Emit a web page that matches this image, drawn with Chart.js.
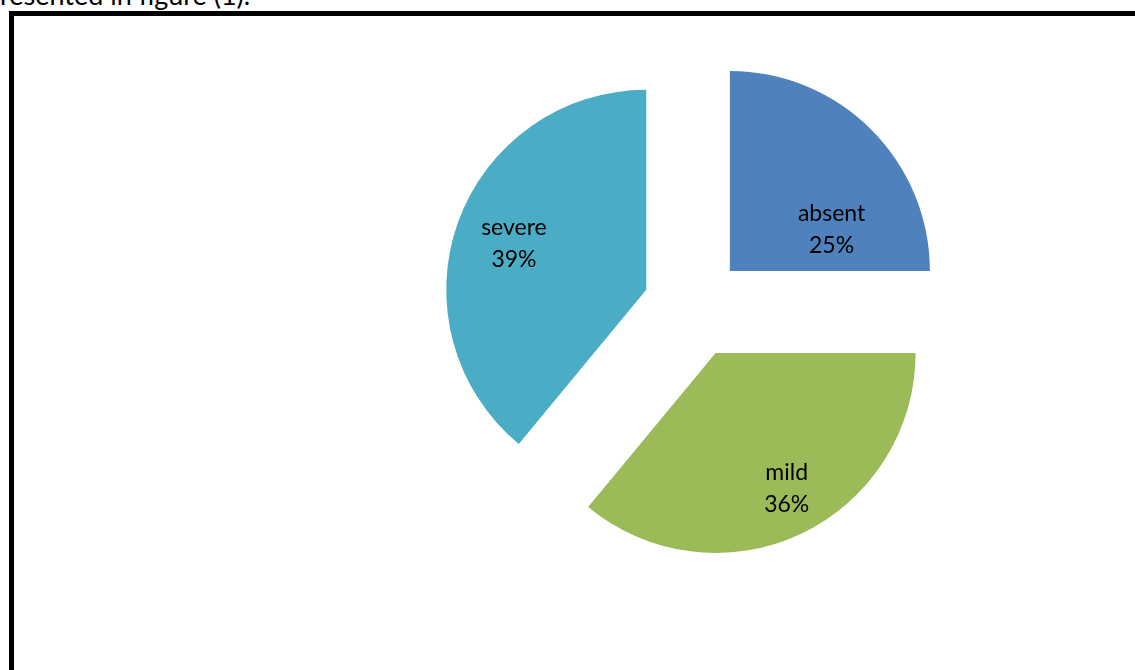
<!DOCTYPE html>
<html>
<head>
<meta charset="utf-8">
<script src="https://cdn.jsdelivr.net/npm/chart.js@4/dist/chart.umd.min.js"></script>
<style>
    body { margin: 0; background: #fff; overflow: hidden; width: 1135px; height: 670px; position: relative; }
    #caption { position: absolute; left: 0; top: -22px; font: 27px Lato, sans-serif; color: #000; white-space: nowrap; }
    #frame { position: absolute; left: 9px; top: 11px; width: 1200px; height: 800px; border: 5px solid #000; }
    #piechart { position: absolute; left: 394px; top: 7px; }
</style>
</head>
<body>
<div id="caption">resented in figure (1).</div>
<div id="frame"></div>
<canvas id="piechart" width="600" height="600"></canvas>
<script>
const categories = ["absent", "mild", "severe"];
const percentValues = [25, 36, 39];
const sliceColors = ['#4F81BD', '#9BBB59', '#4BACC6'];

const pieRadius = 200;
const explodeOffset = 203; // chart.js moves each slice offset/4 px
// where each label sits: [angle shift in degrees, fraction of the radius]
const labelPlacement = [[22.6, 0.55], [-2.5, 0.765], [-0.7, 0.70]];

// chart.js grows exploded slices and narrows them a little;
// undo both so every slice keeps the same radius and straight edges
const keepShape = {
    id: 'keepShape',
    afterDatasetUpdate(chart, args) {
        args.meta.data.forEach(arc => {
            const circ = arc.circumference;
            const fix = 1 - Math.sin(Math.min(Math.PI, circ));
            const radiusOffset = (explodeOffset / 4) * fix;
            arc.outerRadius = pieRadius - radiusOffset;
            const widen = radiusOffset / (2 * Math.PI * pieRadius);
            arc.startAngle -= widen;
            arc.endAngle += widen;
        });
    }
};

const sliceLabels = {
    id: 'sliceLabels',
    afterDatasetsDraw(chart) {
        const ctx = chart.ctx;
        const total = percentValues.reduce((a, b) => a + b, 0);
        chart.getDatasetMeta(0).data.forEach((arc, i) => {
            const mid = (arc.startAngle + arc.endAngle) / 2;
            const cx = arc.x + Math.cos(mid) * explodeOffset / 4;
            const cy = arc.y + Math.sin(mid) * explodeOffset / 4;
            const ang = mid + labelPlacement[i][0] * Math.PI / 180;
            const dist = labelPlacement[i][1] * pieRadius;
            const lx = cx + Math.cos(ang) * dist;
            const ly = cy + Math.sin(ang) * dist;
            const pct = Math.round(percentValues[i] / total * 100) + '%';
            ctx.save();
            ctx.fillStyle = '#000';
            ctx.font = '23px Lato, sans-serif';
            ctx.textAlign = 'center';
            ctx.textBaseline = 'middle';
            ctx.fillText(categories[i], lx, ly - 16);
            ctx.fillText(pct, lx, ly + 16);
            ctx.restore();
        });
    }
};

new Chart(document.getElementById('piechart').getContext('2d'), {
    type: 'pie',
    data: {
        labels: categories,
        datasets: [{
            data: percentValues,
            backgroundColor: sliceColors,
            borderWidth: 0,
            offset: explodeOffset,
            radius: pieRadius
        }]
    },
    options: {
        responsive: false,
        animation: false,
        layout: { padding: 0 },
        plugins: {
            legend: { display: false },
            tooltip: { enabled: false }
        }
    },
    plugins: [keepShape, sliceLabels]
});
</script>
</body>
</html>
